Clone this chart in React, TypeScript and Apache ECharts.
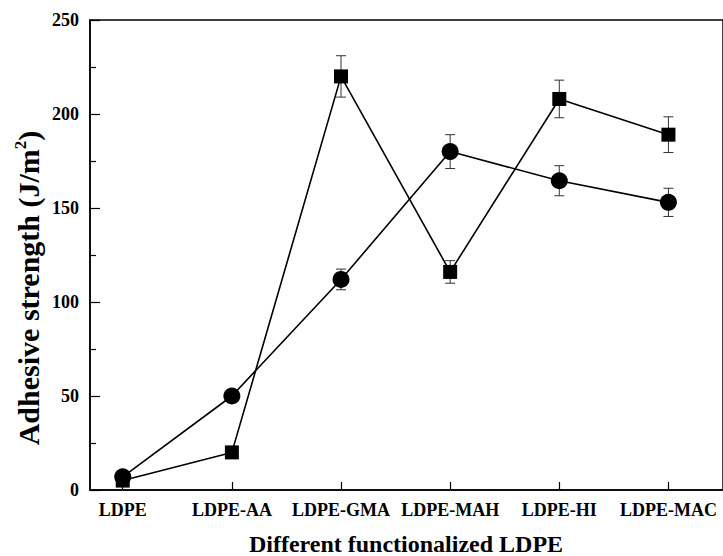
import React, { useEffect, useRef } from "react";
import * as echarts from "echarts";

const categories = ["LDPE", "LDPE-AA", "LDPE-GMA", "LDPE-MAH", "LDPE-HI", "LDPE-MAC"];
const squareValues = [5, 20, 220, 116, 208, 189];
const squareErrors = [0, 0, 11, 6, 10, 9.5];
const circleValues = [7, 50, 112, 180, 164.5, 153];
const circleErrors = [0, 0, 5.5, 9, 8, 7.5];
const yTicks = [0, 50, 100, 150, 200, 250];
const xTitle = "Different functionalized LDPE";
const yTitle = "Adhesive strength (J/m{sup|2})";

const serif = "'Liberation Serif', 'Times New Roman', serif";

export default function App() {
  const ref = useRef<HTMLDivElement>(null);
  useEffect(() => {
    if (!ref.current) return;
    const chart = echarts.init(ref.current, undefined, { renderer: "svg" });
    const idx = categories.map((_, i) => i);
    const sqData = squareValues.map((v, i) => [i, v]);
    const ciData = circleValues.map((v, i) => [i, v]);
    const errData: number[][] = [];
    squareValues.forEach((v, i) => {
      if (squareErrors[i] > 0) errData.push([i, v - squareErrors[i], v + squareErrors[i]]);
    });
    circleValues.forEach((v, i) => {
      if (circleErrors[i] > 0) errData.push([i, v - circleErrors[i], v + circleErrors[i]]);
    });
    chart.setOption({
      animation: false,
      grid: {
        left: 90,
        right: -3,
        top: 20,
        bottom: 66,
        show: true,
        borderColor: "#000",
        borderWidth: 1.5,
        backgroundColor: "transparent",
      },
      graphic: [
        {
          type: "text",
          x: 406,
          y: 544,
          style: {
            text: xTitle,
            fill: "#000",
            font: `bold 24px ${serif}`,
            align: "center",
            verticalAlign: "middle",
          },
        },
        {
          type: "text",
          x: 28,
          y: 288,
          rotation: Math.PI / 2,
          style: {
            text: yTitle,
            fill: "#000",
            font: `bold 30px ${serif}`,
            align: "center",
            verticalAlign: "middle",
            rich: {
              sup: { font: `bold 17px ${serif}`, fill: "#000", verticalAlign: "top", padding: [0, 0, 16, 0] },
            },
          },
        },
      ],
      xAxis: {
        type: "value",
        min: -0.3,
        max: 5.5,
        splitLine: { show: false },
        axisLine: { show: true, onZero: false, lineStyle: { color: "#000", width: 1.5 } },
        axisTick: { show: true, inside: true, length: 8, customValues: idx, lineStyle: { color: "#000", width: 1.2 } },
        axisLabel: {
          customValues: idx,
          formatter: (v: number) => categories[Math.round(v)] ?? "",
          color: "#000",
          fontFamily: serif,
          fontWeight: "bold",
          fontSize: 18,
          margin: 11,
        },
      },
      yAxis: {
        type: "value",
        min: 0,
        max: 250,
        interval: 50,
        splitLine: { show: false },
        axisLine: { show: true, onZero: false, lineStyle: { color: "#000", width: 1.5 } },
        axisTick: { show: true, inside: true, length: 10, lineStyle: { color: "#000", width: 1.2 } },
        minorTick: { show: true, splitNumber: 2, length: 6, lineStyle: { color: "#000", width: 1.2 } },
        axisLabel: {
          customValues: yTicks,
          color: "#000",
          fontFamily: serif,
          fontWeight: "bold",
          fontSize: 18,
          margin: 11,
        },
      },
      series: [
        {
          type: "custom",
          z: 1,
          data: errData,
          renderItem: (params: any, api: any) => {
            const x = api.value(0);
            const lo = api.coord([x, api.value(1)]);
            const hi = api.coord([x, api.value(2)]);
            const w = 5;
            const style = { stroke: "#333", lineWidth: 1 };
            return {
              type: "group",
              children: [
                { type: "line", shape: { x1: lo[0], y1: lo[1], x2: hi[0], y2: hi[1] }, style },
                { type: "line", shape: { x1: lo[0] - w, y1: lo[1], x2: lo[0] + w, y2: lo[1] }, style },
                { type: "line", shape: { x1: hi[0] - w, y1: hi[1], x2: hi[0] + w, y2: hi[1] }, style },
              ],
            };
          },
        },
        {
          type: "line",
          z: 3,
          data: sqData,
          symbol: "rect",
          symbolSize: 14,
          itemStyle: { color: "#000" },
          lineStyle: { color: "#000", width: 1.6 },
        },
        {
          type: "line",
          z: 3,
          data: ciData,
          symbol: "circle",
          symbolSize: 17,
          itemStyle: { color: "#000" },
          lineStyle: { color: "#000", width: 1.6 },
        },
      ],
    });
    return () => chart.dispose();
  }, []);
  return (
    <div
      ref={ref}
      style={{ position: "fixed", left: 0, top: 0, width: 723, height: 556, background: "#fff" }}
    />
  );
}
